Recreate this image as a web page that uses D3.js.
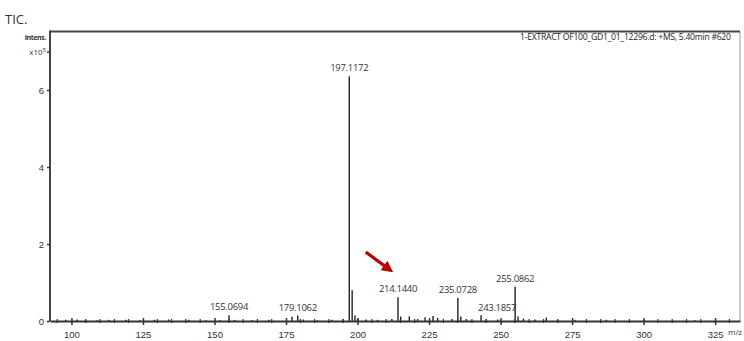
<!DOCTYPE html>
<html>
<head>
<meta charset="utf-8">
<script src="https://cdn.jsdelivr.net/npm/d3@7"></script>
<style>
  body { margin: 0; background: #fff; }
  svg { font-family: "Open Sans", "Liberation Sans", sans-serif; }
</style>
</head>
<body>
<div id="chart"></div>
<script>
// peak list (m/z) and intensities in units of 1e5
const mzValues = [98, 102, 105, 109, 113, 119, 124, 129, 134, 141, 147, 152, 155.0694, 157, 163, 169, 177.1, 179.1062, 181, 186, 191, 195,
                  197.1172, 198.12, 199.1, 200, 203, 207, 212, 214.144, 215.1, 218.1, 221, 223.6, 226.4, 228, 233, 235.0728, 236.1,
                  238, 243.1857, 245, 249, 255.0862, 256.1, 258, 262, 266, 270, 276, 287, 300, 318];
const intensities = [0.03, 0.04, 0.03, 0.02, 0.03, 0.03, 0.02, 0.03, 0.04, 0.03, 0.02, 0.02, 0.15, 0.03, 0.02, 0.03, 0.11, 0.14, 0.04, 0.02, 0.03, 0.05,
                     6.36, 0.8, 0.14, 0.05, 0.04, 0.03, 0.05, 0.62, 0.12, 0.12, 0.05, 0.1, 0.13, 0.08, 0.05, 0.6, 0.12,
                     0.05, 0.15, 0.05, 0.04, 0.89, 0.12, 0.06, 0.04, 0.09, 0.03, 0.03, 0.03, 0.02, 0.02];
const labelledPeaks = ["155.0694", "179.1062", "197.1172", "214.1440", "235.0728", "243.1857", "255.0862"];
const xTickValues = [100, 125, 150, 175, 200, 225, 250, 275, 300, 325];
const yTickValues = [0, 2, 4, 6];

const width = 744, height = 341;
const margin = { top: 31.5, right: 4, bottom: 20, left: 50 };

const svg = d3.select('#chart').append('svg')
    .attr('width', width)
    .attr('height', height);

const x = d3.scaleLinear()
    .domain([92.5, 333.7])
    .range([margin.left, width - margin.right]);
const y = d3.scaleLinear()
    .domain([0, 7.52])
    .range([height - margin.bottom, margin.top]);

const peaks = mzValues.map((mz, i) => ({ mz: mz, v: intensities[i] }));

svg.append('defs').append('clipPath').attr('id', 'plotclip')
    .append('rect')
    .attr('x', margin.left).attr('y', 0)
    .attr('width', x.range()[1] - margin.left).attr('height', height);

// frame
svg.append('line')
    .attr('x1', x.range()[1]).attr('x2', x.range()[1])
    .attr('y1', margin.top).attr('y2', y(0))
    .attr('stroke', '#999').attr('stroke-width', 1);
svg.append('line')
    .attr('x1', margin.left).attr('x2', x.range()[1])
    .attr('y1', margin.top).attr('y2', margin.top)
    .attr('stroke', '#444').attr('stroke-width', 2);

// peaks
svg.append('g')
    .selectAll('line')
    .data(peaks)
    .join('line')
        .attr('x1', d => x(d.mz))
        .attr('x2', d => x(d.mz))
        .attr('y1', y(0))
        .attr('y2', d => y(d.v))
        .attr('stroke', '#222')
        .attr('stroke-width', 1.4);

// x axis
const xAxis = svg.append('g')
    .attr('transform', `translate(0,${y(0)})`)
    .call(d3.axisBottom(x).tickValues(xTickValues).tickSize(4).tickSizeOuter(0));
xAxis.select('.domain').attr('stroke', '#333').attr('stroke-width', 2);
xAxis.selectAll('.tick line').attr('y1', -3).attr('stroke', '#333').attr('stroke-width', 1.5);
xAxis.selectAll('.tick text').attr('font-size', 9.5).attr('fill', '#333').attr('dy', '1em');
svg.append('g')
    .selectAll('line')
    .data(d3.range(95, 334, 5).filter(v => v % 25 !== 0))
    .join('line')
        .attr('x1', d => x(d)).attr('x2', d => x(d))
        .attr('y1', y(0) - 2).attr('y2', y(0) + 2)
        .attr('stroke', '#333').attr('stroke-width', 1.2);

// y axis
const yAxis = svg.append('g')
    .attr('transform', `translate(${margin.left},0)`)
    .call(d3.axisLeft(y).tickValues(yTickValues.concat([7])).tickSize(3).tickSizeOuter(0)
        .tickFormat(d => d === 7 ? '' : d));
yAxis.select('.domain').attr('stroke', '#444').attr('stroke-width', 2)
    .attr('d', `M0,${y(0)}V${margin.top - 1}`);
yAxis.selectAll('.tick line').attr('stroke', '#333').attr('stroke-width', 1.5);
yAxis.selectAll('.tick text').attr('font-size', 9.5).attr('fill', '#333');

const x105 = svg.append('text')
    .attr('x', margin.left - 4).attr('y', y(7) + 3)
    .attr('text-anchor', 'end').attr('font-size', 8).attr('fill', '#333');
x105.append('tspan').text('x10');
x105.append('tspan').attr('dy', -3).attr('font-size', 6).text('5');

svg.append('text')
    .attr('x', 46).attr('y', 40)
    .attr('text-anchor', 'end').attr('font-size', 7).attr('font-weight', 'bold').attr('fill', '#333')
    .attr('letter-spacing', -0.4)
    .text('Intens.');

svg.append('text')
    .attr('x', 5).attr('y', 24)
    .attr('font-size', 13).attr('fill', '#333')
    .text('TIC.');

svg.append('text')
    .attr('clip-path', 'url(#plotclip)')
    .attr('x', 520).attr('y', 40)
    .attr('font-size', 8.6).attr('fill', '#222').attr('letter-spacing', -0.25)
    .text('1-EXTRACT OF100_GD1_01_12296.d: +MS, 5.40min #620');

svg.append('text')
    .attr('x', 728).attr('y', 335)
    .attr('font-size', 8).attr('fill', '#333')
    .text('m/z');

// peak labels
const labelData = peaks.filter(d => labelledPeaks.some(l => Math.abs(+l - d.mz) < 0.01))
    .map(d => ({ mz: d.mz, v: d.v, text: labelledPeaks.find(l => Math.abs(+l - d.mz) < 0.01) }));
svg.append('g')
    .selectAll('text')
    .data(labelData)
    .join('text')
        .attr('x', d => x(d.mz) + (d.text === '243.1857' ? 16 : 0))
        .attr('y', d => y(d.v) - (d.text === '243.1857' ? 4 : 5))
        .attr('text-anchor', 'middle')
        .attr('font-size', 9.5)
        .attr('fill', '#333')
        .attr('letter-spacing', -0.3)
        .text(d => d.text);

// red arrow pointing to 214.1440
svg.select('defs').append('marker')
    .attr('id', 'head')
    .attr('viewBox', '0 0 10 10')
    .attr('refX', 7).attr('refY', 5)
    .attr('markerWidth', 3.6).attr('markerHeight', 3.6)
    .attr('orient', 'auto')
    .append('path').attr('d', 'M0,0L10,5L0,10z').attr('fill', '#b00');
svg.append('line')
    .attr('x1', x(202.9)).attr('y1', y(1.79))
    .attr('x2', x(211.5)).attr('y2', y(1.32))
    .attr('stroke', '#b00').attr('stroke-width', 3.2)
    .attr('marker-end', 'url(#head)');
</script>
</body>
</html>
